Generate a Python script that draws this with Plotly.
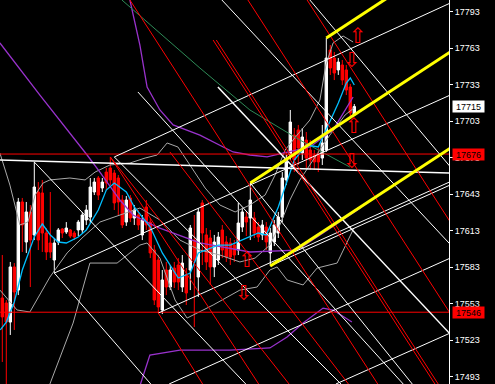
import plotly.graph_objects as go

# ---------------- candles (bar index, OHLC) ----------------
bar_index = list(range(89))
open_ = [17557.7, 17553.6, 17537.9, 17583.2, 17564.2, 17636.6, 17603.7, 17628.4, 17609.5, 17644.8,
         17644.0, 17611.1, 17602.9, 17588.9, 17603.7, 17614.4, 17611.9, 17613.6, 17611.1, 17613.6,
         17613.6, 17621.8, 17624.2, 17644.8, 17656.3, 17648.1, 17661.2, 17664.5, 17660.4, 17656.3,
         17638.2, 17620.1, 17639.9, 17623.4, 17625.9, 17609.5, 17632.5, 17620.1, 17597.1, 17588.9,
         17547.8, 17580.7, 17566.7, 17582.3, 17584.8, 17566.7, 17576.6, 17580.7, 17605.3, 17574.9,
         17635.8, 17609.5, 17607.0, 17583.2, 17588.9, 17613.6, 17603.7, 17602.9, 17601.2, 17597.1,
         17616.0, 17624.2, 17623.4, 17623.4, 17616.0, 17609.5, 17616.0, 17594.7, 17603.7, 17611.1,
         17624.2, 17654.7, 17675.2, 17691.6, 17695.8, 17676.8, 17687.5, 17679.3, 17675.2, 17675.2,
         17672.7, 17679.3, 17761.5, 17754.9, 17745.1, 17749.2, 17745.1, 17731.1, 17708.1]
high = [17593.0, 17556.0, 17587.3, 17586.4, 17639.9, 17639.9, 17636.6, 17634.1, 17669.5, 17653.0,
        17654.7, 17615.2, 17644.8, 17607.0, 17615.2, 17615.2, 17620.1, 17614.4, 17612.7, 17621.8,
        17628.4, 17634.1, 17656.3, 17656.3, 17657.9, 17656.3, 17664.5, 17673.6, 17662.9, 17658.8,
        17642.3, 17641.5, 17642.3, 17634.1, 17630.0, 17625.9, 17638.2, 17623.4, 17601.2, 17593.0,
        17580.7, 17587.3, 17584.8, 17587.3, 17590.5, 17593.0, 17582.3, 17617.7, 17625.9, 17631.6,
        17638.2, 17615.2, 17613.6, 17609.5, 17611.9, 17617.7, 17608.6, 17607.0, 17605.3, 17635.8,
        17631.6, 17628.4, 17652.2, 17628.4, 17620.1, 17621.8, 17620.1, 17615.2, 17621.8, 17628.4,
        17661.2, 17675.2, 17712.2, 17697.4, 17699.9, 17697.4, 17694.1, 17687.5, 17679.3, 17681.0,
        17699.9, 17771.4, 17765.6, 17759.9, 17754.9, 17753.3, 17749.2, 17733.6, 17717.1]
low = [17505.1, 17480.4, 17527.3, 17531.4, 17560.1, 17595.5, 17594.7, 17566.7, 17605.3, 17597.1,
       17595.5, 17588.9, 17590.5, 17578.2, 17601.2, 17607.0, 17610.3, 17607.0, 17605.3, 17608.6,
       17611.1, 17617.7, 17619.3, 17642.3, 17638.2, 17644.8, 17646.4, 17650.5, 17630.0, 17625.9,
       17615.2, 17616.9, 17620.1, 17617.7, 17613.6, 17605.3, 17613.6, 17590.5, 17551.9, 17545.3,
       17544.5, 17560.1, 17564.2, 17565.9, 17564.2, 17562.6, 17551.9, 17564.2, 17533.8, 17558.5,
       17584.8, 17580.7, 17568.4, 17574.9, 17584.8, 17590.5, 17587.3, 17584.8, 17587.3, 17593.0,
       17611.9, 17608.6, 17605.3, 17607.0, 17603.7, 17605.3, 17597.1, 17584.0, 17600.4, 17607.0,
       17620.1, 17650.5, 17671.1, 17661.2, 17667.0, 17671.1, 17664.5, 17662.9, 17662.9, 17661.2,
       17667.0, 17677.7, 17741.0, 17736.8, 17741.0, 17732.7, 17724.5, 17706.4, 17707.3]
close = [17542.1, 17537.9, 17583.2, 17562.6, 17636.6, 17617.7, 17628.4, 17605.3, 17648.9, 17605.3,
         17611.1, 17595.5, 17595.5, 17602.9, 17613.6, 17611.1, 17615.2, 17608.6, 17607.8, 17620.1,
         17625.9, 17630.0, 17648.9, 17653.0, 17642.3, 17653.0, 17652.2, 17654.7, 17635.8, 17636.6,
         17617.7, 17638.2, 17623.4, 17630.0, 17617.7, 17621.8, 17617.7, 17594.7, 17556.0, 17550.3,
         17572.5, 17566.7, 17580.7, 17570.8, 17570.8, 17586.4, 17561.8, 17615.2, 17588.9, 17628.4,
         17611.1, 17587.3, 17583.2, 17603.7, 17607.8, 17597.1, 17591.4, 17591.4, 17593.0, 17619.3,
         17628.4, 17620.1, 17638.2, 17611.1, 17607.8, 17617.7, 17603.7, 17611.1, 17617.7, 17624.2,
         17656.3, 17669.5, 17702.3, 17671.1, 17681.0, 17690.0, 17672.7, 17671.1, 17669.5, 17669.5,
         17685.1, 17754.9, 17746.7, 17742.6, 17751.6, 17736.8, 17728.6, 17709.7, 17715.0]

# ---------------- indicator lines (bar index, price) ----------------
fast_ma_x = [-0.5, 1, 3, 5, 8, 10, 12, 14, 16, 19, 21, 24, 26, 28, 31, 33, 37, 40, 44, 47, 49, 54, 57,
             60, 64, 66, 69, 73, 76, 79, 81, 84, 86, 87, 88]
fast_ma_y = [17531.4, 17537.9, 17554.4, 17580.7, 17607.8, 17618.5, 17609.5, 17603.7, 17602.9, 17607.8,
             17613.6, 17630.0, 17646.4, 17652.2, 17644.8, 17632.5, 17616.0, 17594.7, 17574.1, 17578.2,
             17594.7, 17601.2, 17601.2, 17605.3, 17611.1, 17609.5, 17632.5, 17671.1, 17683.4, 17681.8,
             17695.8, 17717.9, 17734.4, 17738.5, 17732.7]

slow_ma1_x = [-0.6, 9.4, 21.2, 24.4, 29.4, 32.7, 38.7, 49.4, 61.9, 73.7, 80.2, 84.4, 89.9]
slow_ma1_y = [17767.3, 17724.5, 17675.2, 17661.2, 17638.2, 17625.9, 17616.0, 17602.9, 17595.5,
              17597.1, 17611.1, 17620.1, 17632.5]
slow_ma2_x = [31.9, 34.4, 36.2, 39.4, 42.7, 49.4, 57.7, 61.9, 66.2, 71.9, 76.9, 82.7, 87.7]
slow_ma2_y = [17802.6, 17765.6, 17731.1, 17712.2, 17699.9, 17691.6, 17677.7, 17675.2, 17673.6,
              17677.7, 17681.8, 17695.8, 17722.9]
slow_ma3_x = [33.9, 36.9, 44.4, 56.9, 66.9, 71.2, 75.2, 80.2, 82.7, 87.4]
slow_ma3_y = [17480.4, 17510.8, 17514.9, 17514.9, 17516.6, 17525.6, 17537.1, 17549.4, 17547.8, 17537.9]

green_ma_x = [29.9, 49.4, 61.9, 74.4, 86.9]
green_ma_y = [17802.6, 17746.7, 17712.2, 17687.5, 17665.3]

band_up_x = [-0.6, 1.9, 4.4, 6.4, 8.2, 10.2, 11.9, 16.9, 20.7, 23.2, 26.9, 31.9, 35.7, 38.7, 41.2,
             43.9, 46.9, 50.7, 54.4, 58.2, 61.9, 65.7, 68.2, 70.7, 73.7, 76.9, 79.4, 80.9, 82.7, 85.2, 87.7]
band_up_y = [17676.8, 17650.5, 17617.7, 17620.1, 17642.3, 17652.2, 17654.7, 17656.3, 17654.7, 17661.2,
             17667.0, 17668.6, 17672.7, 17675.2, 17685.1, 17681.8, 17667.0, 17648.1, 17634.1, 17628.4,
             17634.1, 17642.3, 17658.8, 17679.3, 17691.6, 17704.0, 17720.4, 17749.2, 17767.3, 17773.0,
             17768.1]
band_mid_x = [-0.6, 3.7, 6.9, 11.9, 16.2, 20.2, 24.4, 29.4, 34.4, 39.4, 44.4, 49.4, 54.4, 59.4, 63.2,
              66.9, 69.4, 71.9, 74.4, 77.7, 81.9, 85.7, 87.9]
band_mid_y = [17564.2, 17547.8, 17546.2, 17574.9, 17594.7, 17607.8, 17620.1, 17625.9, 17631.6, 17621.8,
              17605.3, 17597.1, 17593.0, 17587.3, 17590.5, 17601.2, 17617.7, 17638.2, 17654.7, 17671.1,
              17691.6, 17708.1, 17713.8]
band_low_x = [9.4, 11.9, 17.7, 21.9, 28.7, 34.4, 36.2, 39.4, 43.2, 46.2, 52.7, 59.4, 63.7, 66.9, 68.7,
              71.2, 75.2, 78.7, 83.7, 86.2, 87.9]
band_low_y = [17473.9, 17487.0, 17537.1, 17586.4, 17586.4, 17601.2, 17602.9, 17590.5, 17556.0, 17541.2,
              17551.9, 17564.2, 17566.7, 17580.7, 17583.2, 17572.5, 17568.4, 17582.3, 17586.4, 17602.9,
              17615.2]

# ---------------- drawn objects (bar index, price) ----------------
hline_prices = [17676, 17546]
flat_white = [(-0.6, 17671.1), (111.7, 17660.4)]
yellow_lines = [[(62, 17652.2), (112, 17759.9)],
                [(81, 17771.4), (112, 17838.2)],
                [(67, 17584.0), (112, 17680.9)]]
white_up_lines = [[(13, 17578.2), (112, 17724.5)],
                  [(39, 17545.3), (112, 17653.3)],
                  [(67, 17584.0), (112, 17650.6)],
                  [(28, 17673.6), (112, 17800.1)],
                  [(41.7, 17487.0), (112, 17590.5)],
                  [(83.4, 17487.0), (112, 17528.9)]]
white_down_lines = [[(8, 17669.4), (70, 17455.5)],
                    [(13, 17578.2), (40, 17476.1)],
                    [(33.9, 17727.0), (112, 17444.4)],
                    [(54.9, 17802.6), (112, 17601.7)],
                    [(76.9, 17802.6), (112, 17665.5)],
                    [(62, 17652.2), (112, 17448.2)],
                    [(28, 17673.6), (112, 17397.0)]]
white_thick_lines = [[(53.9, 17731.1), (112, 17528.0)]]
red_lines = [[(31.9, 17802.6), (112, 17394.6)],
             [(52.7, 17769.7), (112, 17467.4)],
             [(53.5, 17769.7), (112, 17471.6)],
             [(61.4, 17802.6), (112, 17544.9)],
             [(76.2, 17802.6), (112, 17620.1)],
             [(27, 17673.6), (112, 17246.0)],
             [(39, 17545.3), (60, 17434.8)],
             [(27, 17673.6), (112, 17318.7)],
             [(41.9, 17677.7), (112, 17378.2)]]

arrow_up = [(88.9, 17771.4), (87.9, 17697.4), (61.2, 17587.3)]
arrow_down = [(87.4, 17751.6), (87.4, 17668.6), (60.4, 17560.1)]

tick_vals = [17493, 17523, 17553, 17583, 17613, 17643, 17673, 17703, 17733, 17763, 17793]
tick_text = [str(v) for v in tick_vals]
last_price = 17715

fig = go.Figure()

fig.add_trace(go.Candlestick(
    x=bar_index, open=open_, high=high, low=low, close=close,
    increasing=dict(line=dict(color="#FFFFFF", width=1), fillcolor="#FFFFFF"),
    decreasing=dict(line=dict(color="#FF0000", width=1), fillcolor="#FF0000"),
    whiskerwidth=0, hoverinfo="skip"))


def add_line(xs, ys, color, width):
    fig.add_trace(go.Scatter(x=xs, y=ys, mode="lines", line=dict(color=color, width=width),
                             hoverinfo="skip"))


def add_seg(pts, color, width):
    add_line([p[0] for p in pts], [p[1] for p in pts], color, width)


add_line(band_up_x, band_up_y, "#A9A9A9", 1)
add_line(band_mid_x, band_mid_y, "#A9A9A9", 1)
add_line(band_low_x, band_low_y, "#A9A9A9", 1)
add_line(slow_ma1_x, slow_ma1_y, "#9932CC", 1.3)
add_line(slow_ma2_x, slow_ma2_y, "#9932CC", 1.3)
add_line(slow_ma3_x, slow_ma3_y, "#9932CC", 1.3)
add_line(green_ma_x, green_ma_y, "#2E8B57", 1)
add_line(fast_ma_x, fast_ma_y, "#00BFFF", 1.3)

for p in hline_prices:
    add_seg([(-1, p), (113, p)], "#FF0000", 1)
add_seg(flat_white, "#FFFFFF", 1.5)
for s in white_up_lines:
    add_seg(s, "#FFFFFF", 1)
for s in white_down_lines:
    add_seg(s, "#FFFFFF", 1)
for s in white_thick_lines:
    add_seg(s, "#FFFFFF", 1.5)
for s in red_lines:
    add_seg(s, "#FF0000", 1)
for s in yellow_lines:
    add_seg(s, "#FFFF00", 3)

fig.add_trace(go.Scatter(x=[p[0] for p in arrow_up], y=[p[1] for p in arrow_up], mode="text",
                         text=["\u21e7"] * len(arrow_up),
                         textfont=dict(color="#FF0000", size=21, family="DejaVu Sans"), hoverinfo="skip"))
fig.add_trace(go.Scatter(x=[p[0] for p in arrow_down], y=[p[1] for p in arrow_down], mode="text",
                         text=["\u21e9"] * len(arrow_down),
                         textfont=dict(color="#FF0000", size=21, family="DejaVu Sans"), hoverinfo="skip"))

annotations = [dict(xref="paper", yref="y", x=1, y=last_price, xanchor="left", xshift=3,
                    text=str(last_price), showarrow=False, bgcolor="#FFFFFF",
                    font=dict(color="#000000", size=9, family="Liberation Sans"),
                    width=31, height=11, borderpad=0)]
for p in hline_prices:
    annotations.append(dict(xref="paper", yref="y", x=1, y=p, xanchor="left", xshift=3,
                            text=str(p), showarrow=False, bgcolor="#FF0000",
                            font=dict(color="#000000", size=9, family="Liberation Sans"),
                            width=31, height=11, borderpad=0))

fig.update_layout(
    width=495, height=384,
    margin=dict(l=0, r=46, t=0, b=0),
    paper_bgcolor="#000000", plot_bgcolor="#000000",
    showlegend=False,
    boxgap=0.4, boxgroupgap=0,
    annotations=annotations,
    xaxis=dict(range=[-0.575, 111.675], visible=False, rangeslider=dict(visible=False),
               showgrid=False, zeroline=False),
    yaxis=dict(range=[17487.0, 17802.6], side="right", tickvals=tick_vals, ticktext=tick_text,
               tickfont=dict(color="#FFFFFF", size=9, family="Liberation Sans"),
               ticks="outside", ticklen=3, tickcolor="#FFFFFF", showline=True, linecolor="#FFFFFF",
               linewidth=1, showgrid=False, zeroline=False),
)

fig.write_html("out.html")
